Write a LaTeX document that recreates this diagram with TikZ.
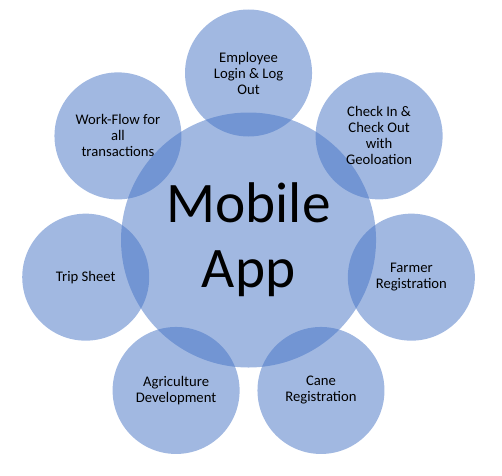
\documentclass[tikz,border=0pt]{standalone}
\usepackage{fontspec}
\setmainfont{Carlito}
\usepackage{xcolor}
\usetikzlibrary{calc}

\definecolor{appblue}{HTML}{4472C4}

\tikzset{
	bubble/.style = {circle, fill=appblue, fill opacity=0.5, text opacity=1,
		minimum size=95.25pt, inner sep=0pt, align=center,
		font=\fontsize{11}{12}\selectfont},
	hub/.style = {bubble, minimum size=191.25pt,
		font=\fontsize{43}{49}\selectfont}
}

\begin{document}
\begin{tikzpicture}
			\useasboundingbox (-186.4pt,-176.25pt) rectangle (190.1pt,180pt);
			
			\def\R{125.25pt}
			
			\node [hub] (app) at (0,0) {Mobile\\App};
			
			%ring of features
			\node [bubble] (login) at ($(app)+(90:\R)$) {Employee\\Login \& Log\\Out};
			\node [bubble] (workflow) at ($(app)+(141.43:\R)$) {Work-Flow for\\all\\transactions};
			\node [bubble] (trip) at ($(app)+(192.86:\R)$) {Trip Sheet};
			\node [bubble] (agri) at ($(app)+(244.29:\R)$) {Agriculture\\Development};
			\node [bubble] (cane) at ($(app)+(295.71:\R)$) {Cane\\Registration};
			\node [bubble] (farmer) at ($(app)+(347.14:\R)$) {Farmer\\Registration};
			\node [bubble] (checkin) at ($(app)+(38.57:\R)$) {Check In \&\\Check Out\\with\\Geoloation};
		\end{tikzpicture}
\end{document}
